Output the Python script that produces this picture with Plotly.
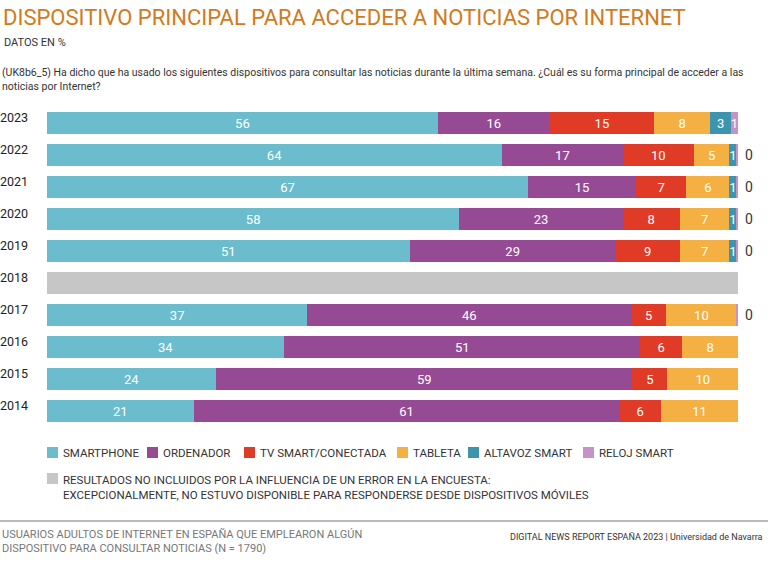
import plotly.graph_objects as go

years = ["2023", "2022", "2021", "2020", "2019", "2018", "2017", "2016", "2015", "2014"]
smartphone = [56, 64, 67, 58, 51, None, 37, 34, 24, 21]
ordenador = [16, 17, 15, 23, 29, None, 46, 51, 59, 61]
tv_smart = [15, 10, 7, 8, 9, None, 5, 6, 5, 6]
tableta = [8, 5, 6, 7, 7, None, 10, 8, 10, 11]
altavoz = [3, 1, 1, 1, 1, None, None, None, None, None]
reloj = [1, 0.2, 0.2, 0.2, 0.2, None, 0.2, None, None, None]
no_incluido = [None, None, None, None, None, 100, None, None, None, None]

series_names = ["SMARTPHONE", "ORDENADOR", "TV SMART/CONECTADA", "TABLETA", "ALTAVOZ SMART", "RELOJ SMART"]
series_values = [smartphone, ordenador, tv_smart, tableta, altavoz, reloj]
colors = ["#6bbccd", "#974a94", "#e03b26", "#f4b043", "#3c95ad", "#c493c8"]
gray_color = "#c6c6c6"
gray_label = ("RESULTADOS NO INCLUIDOS POR LA INFLUENCIA DE UN ERROR EN LA ENCUESTA:<br>"
              "EXCEPCIONALMENTE, NO ESTUVO DISPONIBLE PARA RESPONDERSE DESDE DISPOSITIVOS MÓVILES")

W, H = 768, 565
L, R, T, B = 47, 30, 107, 138
PW, PH = W - L - R, H - T - B

COND = "Roboto, sans-serif"
NUM = "Roboto, sans-serif"


def px(x):
    return (x - L) / PW


def py(y):
    return (H - B - y) / PH


fig = go.Figure()

fig.add_trace(go.Bar(
    y=years, x=no_incluido, orientation="h", marker=dict(color=gray_color, line=dict(width=0)),
    showlegend=False, hoverinfo="skip",
))

for name, vals, col in zip(series_names, series_values, colors):
    text = ["" if (v is None or v < 0.5) else f"{v:.0f}" for v in vals]
    fig.add_trace(go.Bar(
        y=years, x=vals, orientation="h", name=name,
        marker=dict(color=col, line=dict(width=0)),
        text=text, textposition="inside", insidetextanchor="middle",
        constraintext="none",
        insidetextfont=dict(color="white", size=13, family=NUM),
        showlegend=False,
    ))

fig.update_layout(
    width=W, height=H, barmode="stack", barnorm="percent", bargap=0.33,
    margin=dict(l=L, r=R, t=T, b=B, pad=0, autoexpand=False),
    plot_bgcolor="white", paper_bgcolor="white",
    xaxis=dict(range=[0, 100], visible=False, fixedrange=True),
    yaxis=dict(type="category", categoryorder="array", categoryarray=years,
               range=[len(years) - 0.5, -0.5], showgrid=False, zeroline=False, showline=False,
               automargin=False,
               ticks="", tickfont=dict(family=NUM, size=12.5, color="#222222"),
               ticklabelstandoff=18, ticklabelshift=5),
)

ann = []
shapes = []
# zero labels for smart-watch, just past the end of each bar
for i, v in enumerate(reloj):
    if v is not None and v < 0.5:
        ann.append(dict(text=f"{v:.0f}", x=100, y=i, xref="x", yref="y",
                        xanchor="left", yanchor="middle", xshift=5, showarrow=False,
                        font=dict(family=NUM, size=14, color="#333333")))

# Title and subtitles
ann.append(dict(text="DISPOSITIVO PRINCIPAL PARA ACCEDER A NOTICIAS POR INTERNET",
                x=px(1), y=py(17), xanchor="left", yanchor="middle",
                font=dict(family=COND, size=22, color="#d27a1c")))
ann.append(dict(text="DATOS EN %", x=px(2), y=py(42), xanchor="left", yanchor="middle",
                font=dict(family=COND, size=11, color="#333333")))
ann.append(dict(text="(UK8b6_5) Ha dicho que ha usado los siguientes dispositivos para consultar las noticias durante la última semana. ¿Cuál es su forma principal de acceder a las<br>noticias por Internet?",
                x=px(0), y=py(79), xanchor="left", yanchor="middle", align="left",
                font=dict(family=COND, size=10.5, color="#333333")))

# Legend (manual)
leg_x = [47, 147, 244, 397, 468, 583]
for name, col, lx in zip(series_names, colors, leg_x):
    shapes.append(dict(type="rect", xref="paper", yref="paper",
                       x0=px(lx), x1=px(lx + 11), y0=py(458), y1=py(447),
                       fillcolor=col, line=dict(width=0)))
    ann.append(dict(text=name, x=px(lx + 14), y=py(453), xanchor="left", yanchor="middle",
                    font=dict(family=COND, size=11.5, color="#333333")))
shapes.append(dict(type="rect", xref="paper", yref="paper",
                   x0=px(47), x1=px(58), y0=py(484), y1=py(473),
                   fillcolor=gray_color, line=dict(width=0)))
ann.append(dict(text=gray_label, x=px(61), y=py(487), xanchor="left", yanchor="middle", align="left",
                font=dict(family=COND, size=11.5, color="#333333")))

# Footer
shapes.append(dict(type="line", xref="paper", yref="paper", x0=px(0), x1=px(768),
                   y0=py(521), y1=py(521), line=dict(color="#777777", width=1)))
ann.append(dict(text="USUARIOS ADULTOS DE INTERNET EN ESPAÑA QUE EMPLEARON ALGÚN<br>DISPOSITIVO PARA CONSULTAR NOTICIAS (N = 1790)",
                x=px(0), y=py(541), xanchor="left", yanchor="middle", align="left",
                font=dict(family=COND, size=11, color="#777777")))
ann.append(dict(text="DIGITAL NEWS REPORT ESPAÑA 2023 | Universidad de Navarra",
                x=px(765), y=py(537), xanchor="right", yanchor="middle",
                font=dict(family=COND, size=9, color="#333333")))

for a in ann:
    a.setdefault("xref", "paper")
    a.setdefault("yref", "paper")
    a["showarrow"] = False
fig.update_layout(annotations=ann, shapes=shapes)

fig.write_html("out.html")
